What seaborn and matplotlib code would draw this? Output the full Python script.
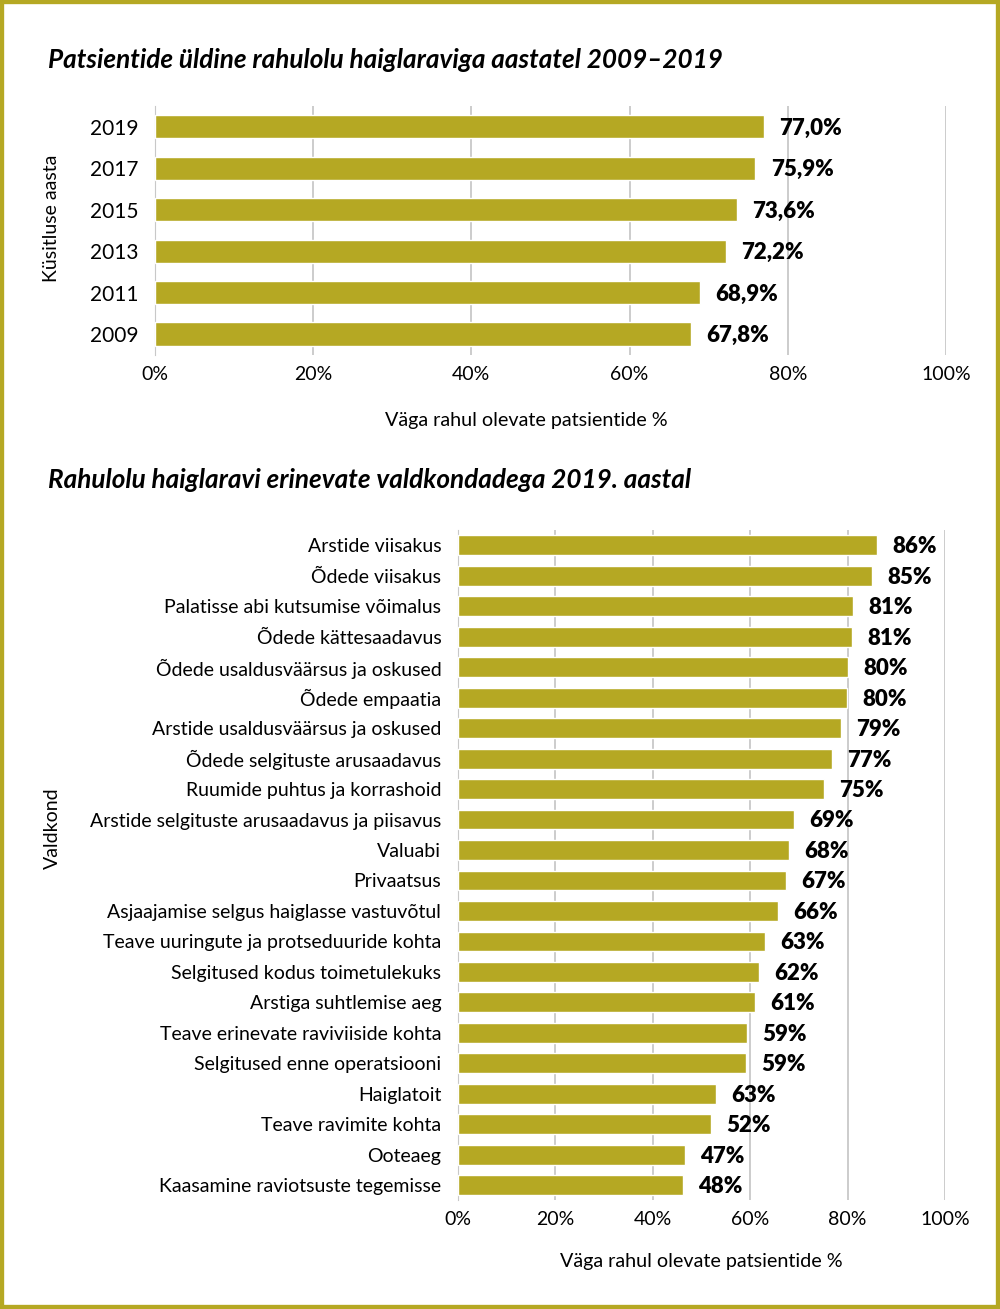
import pandas as pd
import numpy as np
import matplotlib.pyplot as plt
import seaborn as sns
from matplotlib.patches import Rectangle

# top chart
years = ['2019', '2017', '2015', '2013', '2011', '2009']
year_values = [77.0, 75.9, 73.6, 72.2, 68.9, 67.8]
year_labels = ['77,0%', '75,9%', '73,6%', '72,2%', '68,9%', '67,8%']

# bottom chart
areas = ['Arstide viisakus', 'Õdede viisakus', 'Palatisse abi kutsumise võimalus',
         'Õdede kättesaadavus', 'Õdede usaldusväärsus ja oskused', 'Õdede empaatia',
         'Arstide usaldusväärsus ja oskused', 'Õdede selgituste arusaadavus',
         'Ruumide puhtus ja korrashoid', 'Arstide selgituste arusaadavus ja piisavus',
         'Valuabi', 'Privaatsus', 'Asjaajamise selgus haiglasse vastuvõtul',
         'Teave uuringute ja protseduuride kohta', 'Selgitused kodus toimetulekuks',
         'Arstiga suhtlemise aeg', 'Teave erinevate raviviiside kohta',
         'Selgitused enne operatsiooni', 'Haiglatoit', 'Teave ravimite kohta',
         'Ooteaeg', 'Kaasamine raviotsuste tegemisse']
area_values = [86.0, 85.0, 81.1, 80.9, 80.1, 79.9, 78.6, 76.8, 75.2, 69.0, 68.0,
               67.4, 65.7, 63.0, 61.8, 61.0, 59.3, 59.1, 53.0, 52.0, 46.6, 46.1]
area_labels = ['86%', '85%', '81%', '81%', '80%', '80%', '79%', '77%', '75%', '69%',
               '68%', '67%', '66%', '63%', '62%', '61%', '59%', '59%', '63%', '52%',
               '47%', '48%']

olive = '#B5A823'
grid_col = '#C8C8C8'
xlabel = 'Väga rahul olevate patsientide %'

sns.set_style('white', {'text.color': 'black', 'axes.labelcolor': 'black',
                        'xtick.color': 'black', 'ytick.color': 'black'})
plt.rcParams['font.family'] = ['Lato', 'DejaVu Sans']

fig = plt.figure(figsize=(10, 13.09), dpi=100)
ax1 = fig.add_axes([0.155, 0.729, 0.791, 0.190])
ax2 = fig.add_axes([0.458, 0.083, 0.487, 0.512])


def draw(ax, cats, vals, labs, width, ylabel, ysize):
    df = pd.DataFrame({'cat': cats, 'val': vals})
    sns.barplot(data=df, x='val', y='cat', orient='h', color=olive,
                saturation=1, width=width, ax=ax, zorder=3)
    for i, (v, t) in enumerate(zip(vals, labs)):
        ax.annotate(t, (v, i), xytext=(11, -1), textcoords='offset points',
                    va='center', ha='left', fontsize=16, fontweight='heavy')
    ax.set_xlim(0, 100)
    ax.set_xticks(np.arange(0, 101, 20))
    ax.set_xticklabels([f'{x}%' for x in range(0, 101, 20)])
    ax.grid(axis='x', color=grid_col, lw=1.3, zorder=0)
    for s in ['top', 'right', 'bottom']:
        ax.spines[s].set_visible(False)
    ax.spines['left'].set_color(grid_col)
    ax.tick_params(axis='x', length=0, labelsize=14, pad=8)
    ax.tick_params(axis='y', length=0, labelsize=ysize, pad=12)
    ax.set_xlabel(xlabel, fontsize=14.2, labelpad=18)
    ax.set_ylabel(ylabel, fontsize=14)


draw(ax1, years, year_values, year_labels, 0.56, 'Küsitluse aasta', 15)
ax1.yaxis.set_label_coords(-0.12, 0.55)
ax1.xaxis.set_label_coords(0.47, -0.23)
draw(ax2, areas, area_values, area_labels, 0.65, 'Valdkond', 14)
ax2.yaxis.set_label_coords(-0.815, 0.555)

fig.text(0.048, 0.954, 'Patsientide üldine rahulolu haiglaraviga aastatel 2009–2019',
         fontsize=18.8, fontweight='bold', style='italic', va='center')
fig.text(0.048, 0.633, 'Rahulolu haiglaravi erinevate valdkondadega 2019. aastal',
         fontsize=18.8, fontweight='bold', style='italic', va='center')

fig.patches.append(Rectangle((0, 0), 1, 1, transform=fig.transFigure, fill=False,
                             edgecolor=olive, lw=6))

plt.savefig('out.png', dpi=100)
